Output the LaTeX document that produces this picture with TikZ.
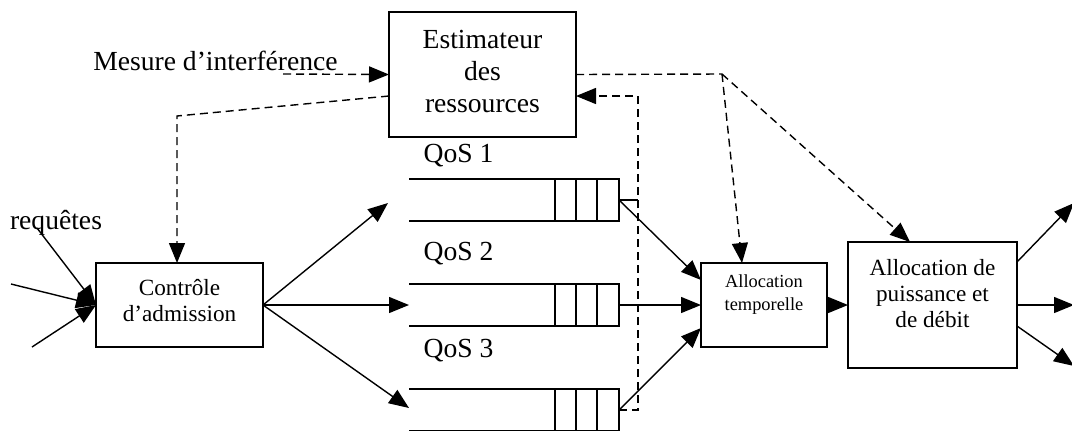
\documentclass[tikz,border=0pt]{standalone}
\usepackage{fontspec}
\setmainfont{Liberation Serif}
\usetikzlibrary{arrows.meta}
\begin{document}
\begin{tikzpicture}[x=0.5pt,y=-0.5pt,
  line width=0.7pt,
  box/.style={draw,line width=0.75pt,inner sep=0pt,outer sep=0pt},
  big/.style={font=\fontsize{13.8}{16}\selectfont,align=center,inner sep=0pt},
  mid/.style={font=\fontsize{11.6}{13}\selectfont,align=center,inner sep=0pt},
  small/.style={font=\fontsize{9.2}{11.5}\selectfont,align=center,inner sep=0pt},
  arr/.style={-{Triangle[length=10pt,width=8pt]}},
  dsh/.style={dash pattern=on 4pt off 2.5pt},
  darr/.style={dsh,-{Triangle[length=10pt,width=8pt]}}]
\useasboundingbox (0,0) rectangle (1072,430);
% boxes
\node[box,minimum width=93.5pt,minimum height=62.5pt] (est) at (482.5,74.5) {};
\node[big] (esttxt) at (482.5,71) {Estimateur\\des\\ressources};
\node[box,minimum width=83.5pt,minimum height=42pt] (ctrl) at (179.5,305) {};
\node[mid] (ctrltxt) at (179.5,301) {Contrôle\\d’admission};
\node[box,minimum width=63pt,minimum height=42pt] (tempo) at (764,305) {};
\node[small] (tempotxt) at (764,295) {Allocation\\temporelle};
\node[box,minimum width=84.5pt,minimum height=63pt] (puis) at (932.5,305) {};
\node[mid] (puistxt) at (932.5,294) {Allocation de\\puissance et\\de débit};
% labels
\node[big] (mesure) at (215.5,61) {Mesure d’interférence};
\node[big] (req) at (56,223) {requêtes};
\node[big,anchor=west] (qos1) at (423,156) {QoS 1};
\node[big,anchor=west] (qos2) at (423,254) {QoS 2};
\node[big,anchor=west] (qos3) at (423,351) {QoS 3};
% queues
\foreach \n/\y in {1/200,2/305,3/410}{
  \node[box,minimum width=32pt,minimum height=21pt] (q\n) at (587,\y) {};
  \draw[line width=0.75pt] ([xshift=-5.5pt]q\n.north) -- ([xshift=-5.5pt]q\n.south);
  \draw[line width=0.75pt] ([xshift=5pt]q\n.north) -- ([xshift=5pt]q\n.south);
  \coordinate (qa\n) at (409,\y-21);
  \coordinate (qb\n) at (409,\y+21);
  \draw[line width=0.75pt] (qa\n) -- (q\n.north west);
  \draw[line width=0.75pt] (qb\n) -- (q\n.south west);
}
% coordinates
\coordinate (m0) at (283,74);
\coordinate (c1) at (177,116);
\coordinate (j) at (722,74);
\coordinate (fb1) at (638,96);
\coordinate (fb2) at (638,200);
\coordinate (fb3) at (638,410);
\coordinate (r1) at (37,228);
\coordinate (r2) at (11,284);
\coordinate (r3) at (32,347);
\coordinate (in1) at (388,203);
\coordinate (in2) at (409,305);
\coordinate (in3) at (409,408);
\coordinate (o1) at (1074,203);
\coordinate (o2) at (1074,305);
\coordinate (o3) at (1074,366);
% dashed connectors
\draw[darr] (m0) -- (est.west);
\draw[darr] ([yshift=-10.75pt]est.west) -- (c1) -- (c1 |- ctrl.north);
\draw[dsh] (est.east) -- (j);
\draw[darr] (j) -- ([xshift=-11pt]tempo.north);
\draw[darr] (j) -- ([xshift=-11.25pt]puis.north);
\draw[darr] (q3.east) -- (fb3) -- (fb1) -- ([yshift=-10.75pt]est.east);
\draw (q1.east) -- (fb2);
% solid connectors
\draw[arr] (r1) -- (ctrl.west);
\draw[arr] (r2) -- (ctrl.west);
\draw[arr] (r3) -- (ctrl.west);
\draw[arr] (ctrl.east) -- (in1);
\draw[arr] (ctrl.east) -- (in2);
\draw[arr] (ctrl.east) -- (in3);
\draw[arr] (q1.east) -- ([yshift=12.5pt]tempo.west);
\draw[arr] (q2.east) -- (tempo.west);
\draw[arr] (q3.east) -- ([yshift=-11.5pt]tempo.west);
\draw[arr] (tempo.east) -- (puis.west);
\draw[arr] ([yshift=21.5pt]puis.east) -- (o1);
\draw[arr] (puis.east) -- (o2);
\draw[arr] ([yshift=-10.5pt]puis.east) -- (o3);
\end{tikzpicture}
\end{document}
